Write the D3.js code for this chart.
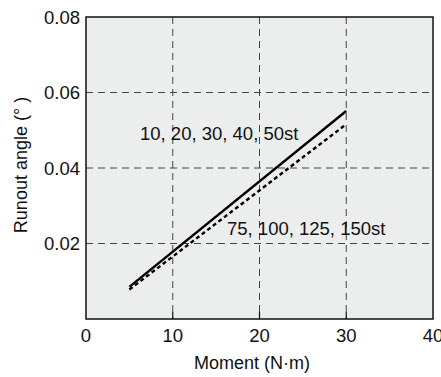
<!DOCTYPE html>
<html><head><meta charset="utf-8">
<script src="https://cdn.jsdelivr.net/npm/d3@7"></script>
<style>body{margin:0;background:#fff}text{font-family:"Liberation Sans",Arial,sans-serif;fill:#111}</style>
</head><body><svg id="c" width="441" height="377"></svg>
<script>
const xTicks = [0, 10, 20, 30, 40];
const yTicks = [0.02, 0.04, 0.06, 0.08];
const yTickLabels = ["0.02", "0.04", "0.06", "0.08"];
const moment = [5, 30];
const smallStroke = [0.0085, 0.0551];   // 10, 20, 30, 40, 50st
const largeStroke = [0.0078, 0.0516];   // 75, 100, 125, 150st
const seriesLabels = ["10, 20, 30, 40, 50st", "75, 100, 125, 150st"];

const svg = d3.select("#c");
const L = 86, R = 433, T = 17, B = 319;
const x = d3.scaleLinear().domain([0, 40]).range([L, R]);
const y = d3.scaleLinear().domain([0, 0.08]).range([B, T]);

svg.append("rect").attr("x", L).attr("y", T).attr("width", R - L).attr("height", B - T).attr("fill", "#eceded");

// grid
const g = svg.append("g");
g.selectAll("line.vx").data([10, 20, 30]).join("line")
  .attr("x1", d => x(d)).attr("x2", d => x(d)).attr("y1", T).attr("y2", B)
  .attr("stroke", "#444").attr("stroke-width", 1).attr("stroke-dasharray", "7,5");
g.selectAll("line.hy").data([0.02, 0.04, 0.06]).join("line")
  .attr("x1", L).attr("x2", R).attr("y1", d => y(d)).attr("y2", d => y(d))
  .attr("stroke", "#444").attr("stroke-width", 1).attr("stroke-dasharray", "7,5");
// inner ticks at bottom
g.selectAll("line.tk").data([10, 20, 30]).join("line")
  .attr("x1", d => x(d)).attr("x2", d => x(d)).attr("y1", B).attr("y2", B - 7)
  .attr("stroke", "#111").attr("stroke-width", 1.2);

// lines
const line = d3.line().x((d, i) => x(moment[i])).y(d => y(d));
svg.append("path").attr("d", line(smallStroke)).attr("fill", "none")
  .attr("stroke", "#000").attr("stroke-width", 2.4);
svg.append("path").attr("d", line(largeStroke)).attr("fill", "none")
  .attr("stroke", "#000").attr("stroke-width", 2.4).attr("stroke-dasharray", "4,3");

// frame
svg.append("rect").attr("x", L).attr("y", T).attr("width", R - L).attr("height", B - T)
  .attr("fill", "none").attr("stroke", "#111").attr("stroke-width", 1.5);

// tick labels
svg.selectAll("text.xt").data(xTicks).join("text")
  .attr("x", d => x(d)).attr("y", 342).attr("text-anchor", "middle")
  .attr("font-size", 18.5).text(d => d);
svg.selectAll("text.yt").data(yTicks).join("text")
  .attr("x", 80).attr("y", d => y(d) + 6.5).attr("text-anchor", "end")
  .attr("font-size", 18.5).text((d, i) => yTickLabels[i]);

// axis titles
svg.append("text").attr("x", 252).attr("y", 369).attr("text-anchor", "middle")
  .attr("font-size", 18).text("Moment (N\u00b7m)");
svg.append("text").attr("transform", "translate(27,165) rotate(-90)").attr("text-anchor", "middle")
  .attr("font-size", 18).text("Runout angle (\u00b0 )");

// series labels
svg.append("text").attr("x", 140).attr("y", 140).attr("font-size", 18.5).text(seriesLabels[0]);
svg.append("text").attr("x", 227).attr("y", 235).attr("font-size", 18.5).text(seriesLabels[1]);
</script></body></html>
